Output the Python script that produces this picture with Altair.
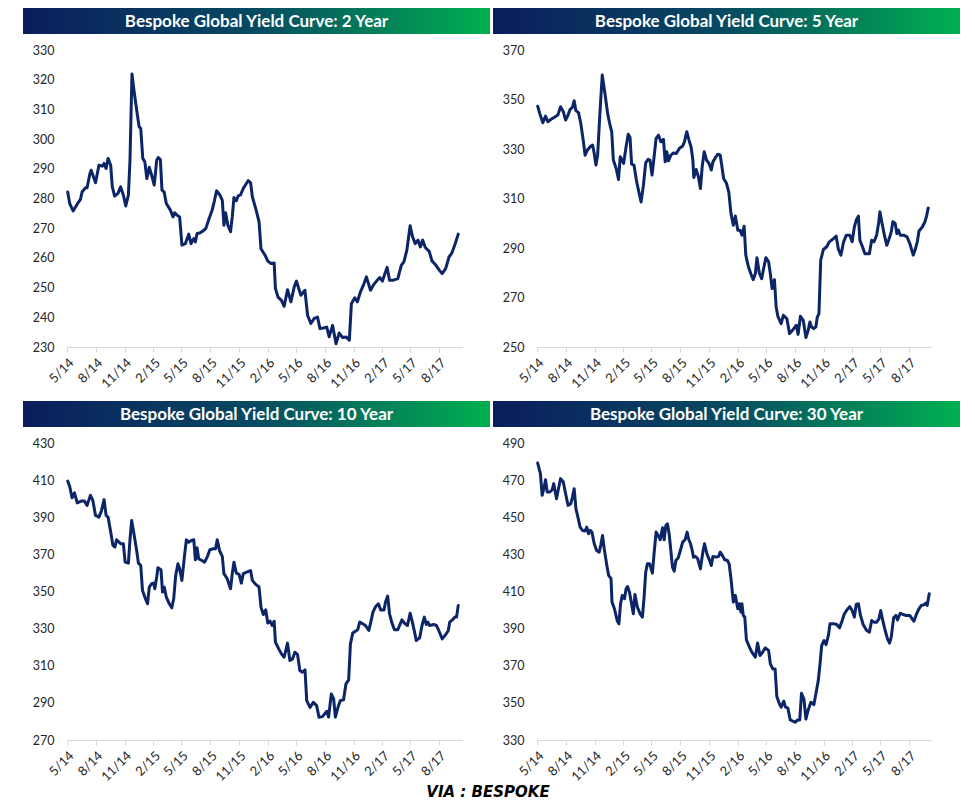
import calendar
import altair as alt
import pandas as pd

# ---------------- data ----------------
TITLES = [
    "Bespoke Global Yield Curve: 2 Year",
    "Bespoke Global Yield Curve: 5 Year",
    "Bespoke Global Yield Curve: 10 Year",
    "Bespoke Global Yield Curve: 30 Year",
]
FOOTER = "VIA : BESPOKE"

# x-axis ticks (year, month) -> shown as 5/14, 8/14, ...
TICK_MONTHS = [(2014, 5), (2014, 8), (2014, 11), (2015, 2), (2015, 5), (2015, 8), (2015, 11),
               (2016, 2), (2016, 5), (2016, 8), (2016, 11), (2017, 2), (2017, 5), (2017, 8)]

# y-axis ticks per panel
Y2 = [230, 240, 250, 260, 270, 280, 290, 300, 310, 320, 330]
Y5 = [250, 270, 290, 310, 330, 350, 370]
Y10 = [270, 290, 310, 330, 350, 370, 390, 410, 430]
Y30 = [330, 350, 370, 390, 410, 430, 450, 470, 490]

# time of each observation, in months since 1 May 2014
M2 = [0.07, 0.28, 0.63, 1.05, 1.4, 1.57, 1.92, 2.1, 2.38, 2.52,
      2.97, 3.32, 3.67, 3.85, 4.06, 4.27, 4.55, 4.72, 4.97, 5.31,
      5.59, 5.87, 6.12, 6.4, 6.57, 6.78, 6.99, 7.27, 7.52, 7.69,
      7.9, 8.11, 8.32, 8.57, 8.81, 9.09, 9.37, 9.55, 9.79, 9.97,
      10.2, 10.42, 10.84, 11.12, 11.29, 11.54, 11.82, 12.06, 12.41, 12.76,
      13.0, 13.29, 13.46, 13.64, 13.92, 14.27, 14.55, 14.86, 15.21, 15.45,
      15.66, 16.01, 16.26, 16.43, 16.61, 16.85, 17.13, 17.31, 17.48, 17.73,
      17.9, 18.18, 18.46, 18.74, 18.99, 19.23, 19.41, 19.76, 20.1, 20.3,
      20.72, 21.0, 21.35, 21.7, 21.84, 22.12, 22.47, 22.75, 23.1, 23.46,
      23.81, 24.05, 24.5, 24.92, 25.2, 25.55, 25.9, 26.25, 26.5, 26.85,
      27.2, 27.45, 27.8, 28.16, 28.5, 28.86, 29.21, 29.56, 29.77, 30.12,
      30.4, 30.72, 31.07, 31.35, 31.77, 32.12, 32.47, 32.72, 33.0, 33.28,
      33.53, 33.81, 34.23, 34.68, 35.04, 35.32, 35.63, 35.98, 36.23, 36.51,
      36.79, 37.04, 37.28, 37.56, 37.98, 38.26, 38.68, 39.03, 39.31, 39.67,
      40.02, 40.3, 40.65, 41.0]
V2 = [282.2, 278.3, 275.8, 278.1, 279.7, 282.2, 283.6, 283.6, 288.2, 289.5,
      285.3, 291.2, 290.9, 291.8, 290.1, 293.5, 291.2, 283.9, 280.8, 281.7,
      283.9, 281.1, 277.5, 281.1, 292.9, 321.9, 316.5, 309.8, 304.2, 303.6,
      293.5, 292.4, 286.7, 290.5, 287.9, 284.5, 292.9, 293.8, 293.1, 282.8,
      282.2, 278.3, 276.1, 273.8, 275.2, 274.4, 273.8, 264.3, 264.8, 268.0,
      264.8, 266.5, 265.4, 268.2, 268.4, 269.1, 269.9, 272.9, 276.1, 279.4,
      282.6, 281.1, 279.4, 271.0, 275.2, 271.0, 268.8, 273.8, 280.3, 279.2,
      280.8, 281.3, 283.4, 284.8, 286.0, 285.3, 280.6, 276.6, 272.1, 263.1,
      260.9, 258.9, 258.1, 258.3, 249.7, 246.8, 245.7, 243.7, 249.3, 245.2,
      250.2, 252.2, 247.4, 249.1, 240.7, 237.9, 239.6, 240.1, 236.2, 236.4,
      236.7, 233.4, 237.3, 231.1, 234.7, 233.2, 233.4, 232.3, 244.6, 246.6,
      245.2, 248.5, 251.1, 253.6, 249.1, 251.1, 252.5, 253.4, 252.2, 254.7,
      256.8, 252.5, 252.5, 253.0, 257.5, 258.7, 262.6, 270.8, 267.1, 264.8,
      266.0, 263.7, 266.0, 263.5, 262.2, 259.0, 257.5, 255.8, 254.7, 256.4,
      260.3, 261.5, 264.5, 268.0]

M5 = [0.07, 0.28, 0.6, 0.88, 1.12, 1.47, 1.82, 2.18, 2.46, 2.74,
      2.98, 3.23, 3.44, 3.68, 3.86, 4.04, 4.32, 4.56, 4.84, 5.02,
      5.26, 5.54, 5.79, 5.96, 6.14, 6.32, 6.56, 6.81, 7.09, 7.37,
      7.61, 7.79, 7.96, 8.25, 8.49, 8.67, 9.02, 9.3, 9.54, 9.75,
      9.93, 10.18, 10.46, 10.7, 10.91, 11.16, 11.4, 11.65, 11.86, 12.07,
      12.28, 12.49, 12.74, 12.98, 13.26, 13.44, 13.61, 13.79, 14.04, 14.32,
      14.6, 14.91, 15.26, 15.44, 15.68, 15.89, 16.14, 16.32, 16.42, 16.67,
      16.91, 17.12, 17.3, 17.51, 17.75, 18.0, 18.25, 18.42, 18.7, 18.95,
      19.19, 19.37, 19.54, 19.82, 20.07, 20.3, 20.54, 20.75, 21.0, 21.25,
      21.46, 21.7, 21.88, 22.16, 22.41, 22.65, 22.87, 23.04, 23.29, 23.54,
      23.75, 23.99, 24.27, 24.45, 24.63, 24.87, 25.05, 25.23, 25.58, 25.82,
      26.18, 26.46, 26.81, 27.16, 27.34, 27.58, 27.87, 28.15, 28.39, 28.57,
      28.75, 28.99, 29.2, 29.35, 29.52, 29.7, 29.98, 30.33, 30.61, 31.04,
      31.32, 31.56, 31.81, 32.09, 32.37, 32.73, 32.97, 33.22, 33.43, 33.68,
      33.85, 34.13, 34.38, 34.84, 35.08, 35.33, 35.61, 35.82, 35.96, 36.18,
      36.42, 36.67, 36.95, 37.13, 37.3, 37.55, 37.73, 37.9, 38.08, 38.43,
      38.78, 39.07, 39.42, 39.6, 39.84, 40.02, 40.37, 40.65, 40.82, 41.0]
V5 = [347.3, 344.4, 340.6, 343.3, 341.0, 342.0, 342.8, 343.7, 347.1, 345.1,
      341.7, 343.7, 346.0, 346.8, 349.5, 345.5, 344.7, 340.3, 332.9, 327.5,
      329.6, 330.9, 331.6, 328.2, 323.5, 327.5, 344.4, 359.9, 352.5, 344.4,
      339.7, 337.0, 325.5, 322.1, 317.7, 326.9, 324.2, 330.9, 336.0, 334.7,
      323.9, 323.5, 316.7, 312.3, 308.6, 315.4, 324.4, 325.8, 325.5, 319.5,
      326.6, 334.3, 335.6, 332.9, 333.9, 324.8, 328.9, 325.2, 327.5, 328.4,
      328.2, 330.2, 331.2, 332.9, 337.0, 333.9, 330.6, 325.5, 318.5, 321.7,
      318.8, 314.0, 322.8, 328.9, 325.5, 324.2, 321.5, 324.8, 326.6, 327.9,
      327.5, 322.8, 318.1, 316.3, 312.7, 303.9, 299.2, 302.9, 297.2, 297.2,
      295.2, 298.8, 287.1, 282.4, 279.6, 277.2, 279.6, 286.1, 279.9, 277.6,
      281.7, 286.1, 284.4, 279.6, 273.6, 277.2, 266.2, 262.4, 259.4, 262.8,
      261.5, 255.4, 257.0, 258.8, 255.1, 262.4, 260.8, 253.8, 256.7, 260.1,
      258.1, 257.4, 258.1, 262.1, 263.5, 285.1, 289.4, 290.5, 292.5, 293.8,
      294.8, 289.4, 287.1, 292.5, 295.2, 295.2, 292.5, 298.5, 301.2, 302.9,
      293.1, 290.5, 287.7, 287.7, 293.1, 292.5, 295.2, 300.1, 304.6, 299.9,
      295.2, 291.1, 294.2, 296.5, 300.6, 299.9, 295.8, 297.2, 295.2, 295.2,
      294.5, 291.8, 287.1, 289.1, 292.5, 296.9, 298.5, 300.6, 302.9, 306.2]

M10 = [0.07, 0.28, 0.52, 0.77, 1.05, 1.47, 1.82, 2.1, 2.45, 2.69,
       2.97, 3.32, 3.57, 3.85, 4.06, 4.27, 4.55, 4.79, 5.0, 5.17,
       5.42, 5.59, 5.87, 6.05, 6.4, 6.57, 6.75, 6.99, 7.27, 7.45,
       7.69, 7.87, 8.11, 8.39, 8.57, 8.81, 9.02, 9.16, 9.37, 9.51,
       9.86, 10.03, 10.21, 10.42, 10.7, 10.98, 11.19, 11.4, 11.64, 11.82,
       12.06, 12.31, 12.52, 12.76, 13.04, 13.29, 13.46, 13.64, 13.81, 14.16,
       14.41, 14.69, 14.97, 15.31, 15.56, 15.73, 15.98, 16.26, 16.43, 16.78,
       17.13, 17.31, 17.48, 17.73, 18.01, 18.25, 18.46, 18.81, 19.23, 19.41,
       19.76, 20.1, 20.3, 20.54, 20.79, 21.0, 21.25, 21.49, 21.7, 21.84,
       22.19, 22.47, 22.75, 23.1, 23.35, 23.63, 23.88, 24.16, 24.4, 24.65,
       24.93, 25.11, 25.46, 25.81, 26.16, 26.4, 26.75, 27.04, 27.21, 27.39,
       27.67, 27.91, 28.09, 28.37, 28.61, 28.96, 29.21, 29.49, 29.67, 29.91,
       30.19, 30.44, 30.65, 30.96, 31.25, 31.6, 31.84, 32.02, 32.3, 32.58,
       32.82, 33.18, 33.35, 33.6, 33.81, 34.05, 34.33, 34.68, 34.86, 35.11,
       35.39, 35.7, 35.98, 36.16, 36.44, 36.61, 36.96, 37.21, 37.46, 37.67,
       37.84, 38.02, 38.44, 38.72, 38.96, 39.32, 39.67, 39.95, 40.09, 40.37,
       40.65, 40.82, 41.0]
V10 = [409.5, 406.6, 400.5, 403.1, 397.7, 398.7, 398.7, 396.4, 401.8, 399.1,
       391.0, 390.1, 393.3, 399.5, 391.0, 390.1, 382.0, 374.8, 373.9, 377.9,
       376.6, 375.7, 375.7, 365.8, 365.3, 377.9, 388.3, 381.1, 372.1, 365.3,
       364.1, 350.6, 347.0, 343.4, 352.4, 354.2, 354.5, 351.5, 357.8, 362.8,
       361.7, 349.7, 352.4, 347.0, 343.7, 341.2, 346.1, 358.7, 364.9, 362.2,
       356.0, 368.5, 377.9, 376.6, 377.5, 377.9, 367.1, 373.6, 367.6, 366.7,
       365.8, 368.5, 372.5, 373.0, 373.0, 377.9, 371.8, 368.9, 359.6, 356.9,
       351.5, 359.6, 365.8, 359.9, 359.2, 354.5, 359.6, 360.4, 361.3, 356.0,
       353.8, 352.4, 341.6, 337.6, 340.1, 333.0, 334.0, 331.7, 334.0, 322.7,
       319.1, 316.4, 314.6, 322.2, 312.8, 313.7, 317.3, 316.0, 307.4, 306.5,
       307.8, 291.2, 287.6, 290.3, 288.5, 282.3, 282.6, 284.4, 285.5, 282.3,
       294.8, 292.1, 282.3, 287.6, 291.2, 291.6, 300.2, 302.4, 321.8, 327.6,
       328.6, 329.4, 333.5, 332.6, 331.7, 329.0, 334.4, 338.9, 341.9, 343.4,
       340.1, 340.1, 344.3, 347.5, 338.0, 333.5, 329.4, 329.4, 331.7, 334.7,
       332.9, 331.7, 338.3, 334.7, 328.1, 323.6, 325.0, 331.7, 336.2, 332.2,
       333.5, 331.7, 332.2, 331.7, 329.0, 324.5, 326.8, 329.0, 333.5, 334.7,
       336.2, 336.2, 342.5]

M30 = [0.07, 0.35, 0.53, 0.7, 0.88, 1.05, 1.33, 1.58, 1.75, 2.04,
       2.28, 2.46, 2.74, 2.98, 3.23, 3.51, 3.68, 3.86, 4.04, 4.21,
       4.49, 4.74, 5.02, 5.19, 5.37, 5.54, 5.72, 5.96, 6.21, 6.49,
       6.67, 6.84, 7.02, 7.26, 7.47, 7.72, 7.82, 8.07, 8.35, 8.53,
       8.7, 8.88, 9.12, 9.3, 9.47, 9.68, 9.89, 10.11, 10.28, 10.53,
       10.81, 11.05, 11.23, 11.4, 11.58, 11.82, 12.11, 12.28, 12.49, 12.7,
       12.91, 13.16, 13.33, 13.51, 13.68, 13.86, 14.04, 14.21, 14.39, 14.56,
       14.81, 15.02, 15.26, 15.51, 15.72, 15.86, 16.07, 16.21, 16.39, 16.6,
       16.84, 17.12, 17.37, 17.54, 17.79, 18.0, 18.25, 18.42, 18.77, 19.02,
       19.19, 19.47, 19.65, 19.93, 20.11, 20.3, 20.54, 20.75, 21.0, 21.18,
       21.35, 21.46, 21.6, 21.77, 21.95, 22.23, 22.51, 22.87, 23.11, 23.36,
       23.64, 23.92, 24.27, 24.45, 24.7, 24.94, 25.12, 25.4, 25.58, 25.86,
       26.04, 26.28, 26.53, 26.81, 27.06, 27.27, 27.51, 27.69, 27.94, 28.15,
       28.39, 28.68, 29.0, 29.2, 29.45, 29.63, 29.8, 30.05, 30.26, 30.51,
       30.68, 31.04, 31.39, 31.67, 31.92, 32.16, 32.44, 32.73, 32.97, 33.22,
       33.43, 33.68, 33.92, 34.2, 34.56, 34.84, 35.08, 35.33, 35.61, 35.86,
       36.04, 36.25, 36.5, 36.74, 36.95, 37.13, 37.38, 37.62, 37.8, 38.08,
       38.36, 38.71, 39.07, 39.31, 39.49, 39.77, 40.02, 40.26, 40.54, 40.72,
       40.89, 41.1]
V30 = [479.2, 473.5, 461.8, 465.4, 470.2, 463.6, 463.6, 464.8, 468.1, 460.0,
       466.3, 470.8, 469.0, 462.7, 456.4, 457.3, 460.9, 465.4, 454.6, 451.0,
       444.7, 442.9, 442.6, 444.7, 441.1, 442.9, 442.0, 435.7, 432.1, 431.2,
       435.4, 440.2, 433.0, 424.9, 418.7, 416.9, 404.3, 400.7, 394.4, 392.6,
       403.4, 407.9, 406.1, 411.5, 412.7, 409.7, 404.3, 398.0, 408.4, 401.6,
       398.0, 396.2, 407.0, 420.4, 424.9, 424.9, 419.9, 430.3, 442.0, 440.2,
       437.9, 444.3, 437.9, 445.6, 446.5, 441.1, 432.1, 423.1, 421.0, 426.7,
       428.2, 432.1, 436.6, 437.9, 442.0, 438.4, 435.7, 433.0, 428.5, 428.9,
       427.6, 422.2, 431.2, 435.7, 430.3, 427.6, 424.0, 428.9, 428.5, 428.9,
       431.2, 428.9, 427.1, 426.7, 424.9, 416.9, 404.3, 407.9, 400.7, 403.4,
       398.9, 403.4, 397.1, 396.2, 383.9, 380.4, 377.3, 374.6, 382.2, 375.5,
       377.3, 379.6, 378.2, 371.0, 368.3, 368.3, 353.4, 349.4, 347.7, 350.9,
       347.7, 347.3, 340.8, 340.1, 339.6, 340.8, 340.8, 355.2, 352.1, 341.3,
       346.2, 350.3, 349.1, 354.8, 362.0, 371.0, 380.9, 383.6, 381.4, 386.3,
       392.6, 392.6, 392.2, 390.4, 394.0, 397.9, 400.1, 401.9, 399.8, 396.2,
       403.0, 403.4, 397.1, 392.2, 389.0, 388.1, 394.4, 393.5, 393.5, 395.3,
       399.8, 394.4, 389.0, 384.5, 382.2, 385.4, 395.8, 397.1, 394.7, 398.3,
       397.6, 397.1, 397.1, 395.3, 394.0, 398.0, 400.7, 402.5, 402.8, 403.7,
       402.5, 408.8]

# ---------------- styling ----------------
LINE_COLOR = "#0b2566"
LABEL_COLOR = "#262626"
AXIS_GREY = "#d9d9d9"
FONT = "Lato"
W, H = 395, 297

HEADER_GRAD = alt.LinearGradient(
    gradient="linear",
    stops=[alt.GradientStop(color="#0b1d5c", offset=0),
           alt.GradientStop(color="#074a62", offset=0.5),
           alt.GradientStop(color="#00b050", offset=1)],
    x1=0, x2=1, y1=0, y2=0)


def to_date(m):
    k = int(m)
    frac = m - k
    y = 2014 + (4 + k) // 12
    mo = (4 + k) % 12 + 1
    days = calendar.monthrange(y, mo)[1]
    d = pd.Timestamp(y, mo, 1) + pd.Timedelta(days=frac * days)
    return d.strftime("%Y-%m-%dT%H:%M:%S")


X_VALUES = [alt.DateTime(year=y, month=m, date=1) for y, m in TICK_MONTHS]
X_DOMAIN = [alt.DateTime(year=2014, month=5, date=1),
            alt.DateTime(year=2017, month=10, date=13)]


def panel(title, months, values, yticks, footer=False):
    assert len(months) == len(values)
    df = pd.DataFrame({"date": [to_date(m) for m in months], "value": values})
    line = alt.Chart(df).mark_line(
        color=LINE_COLOR, strokeWidth=3, strokeJoin="round", strokeCap="round"
    ).encode(
        x=alt.X("date:T",
                scale=alt.Scale(domain=X_DOMAIN, nice=False),
                axis=alt.Axis(values=X_VALUES, format="%-m/%y", labelAngle=-45,
                              title=None, grid=False, domainColor=AXIS_GREY,
                              domainWidth=1.2, tickColor=AXIS_GREY, tickSize=5,
                              labelFontSize=13, labelColor=LABEL_COLOR,
                              labelFont=FONT, labelPadding=4, labelOverlap=False,
                              labelFlush=False)),
        y=alt.Y("value:Q",
                scale=alt.Scale(domain=[yticks[0], yticks[-1]], nice=False, zero=False),
                axis=alt.Axis(values=yticks, title=None, grid=False, domain=False,
                              ticks=False, labelPadding=13, labelFontSize=12.5,
                              labelColor=LABEL_COLOR, labelFont=FONT)),
    )
    head = pd.DataFrame({"t": [title]})
    rect = alt.Chart(head).mark_rect(color=HEADER_GRAD).encode(
        x=alt.value(-44), x2=alt.value(423), y=alt.value(-42), y2=alt.value(-16))
    text = alt.Chart(head).mark_text(
        color="white", font=FONT, fontWeight="bold", fontSize=17,
        align="center", baseline="middle"
    ).encode(x=alt.value(189.5), y=alt.value(-28.5), text="t:N")
    layers = [line, rect, text]
    if footer:
        foot = pd.DataFrame({"t": [FOOTER]})
        layers.append(alt.Chart(foot).mark_text(
            font="DejaVu Sans", fontWeight="bold", fontStyle="italic", fontSize=15,
            color="black", align="center", baseline="middle"
        ).encode(x=alt.value(421), y=alt.value(349), text="t:N"))
    return alt.layer(*layers).properties(width=W, height=H)


p1 = panel(TITLES[0], M2, V2, Y2)
p2 = panel(TITLES[1], M5, V5, Y5)
p3 = panel(TITLES[2], M10, V10, Y10, footer=True)
p4 = panel(TITLES[3], M30, V30, Y30)

chart = alt.concat(
    p1, p2, p3, p4, columns=2,
    spacing={"row": 96, "column": 75},
    bounds="flush",
).properties(
    padding={"left": 15, "top": 0, "right": 0, "bottom": 0},
    background="white",
).configure_view(strokeWidth=0)

chart.save("out.html", embed_options={"renderer": "svg", "actions": False})
